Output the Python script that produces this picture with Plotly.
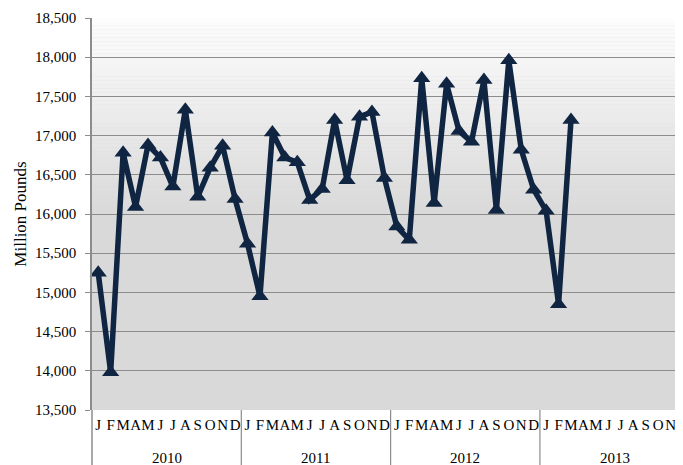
import numpy as np
import plotly.graph_objects as go

months = ["J", "F", "M", "A", "M", "J", "J", "A", "S", "O", "N", "D"]
years = ["2010", "2011", "2012", "2013"]
values_2010 = [15250, 13980, 16780, 16090, 16880, 16720, 16350, 17330, 16220, 16590, 16870, 16190]
values_2011 = [15620, 14950, 17040, 16720, 16660, 16180, 16320, 17200, 16430, 17240, 17300, 16460]
values_2012 = [15840, 15670, 17730, 16140, 17660, 17060, 16920, 17710, 16050, 17960, 16820, 16310]
values_2013 = [16040, 14850, 17200, None, None, None, None, None, None, None, None, None]
y_ticks = [13500, 14000, 14500, 15000, 15500, 16000, 16500, 17000, 17500, 18000, 18500]

all_vals = values_2010 + values_2011 + values_2012 + values_2013
labels = months * len(years)
x = np.arange(len(all_vals))

NAVY = "#0f2541"
GRID = "#8c8c8c"
FONT = "Liberation Serif"

fig = go.Figure()
fig.add_trace(go.Scatter(
    x=x, y=all_vals, mode="lines+markers",
    line=dict(color=NAVY, width=5.5),
    marker=dict(symbol="triangle-up", size=15, color=NAVY),
    connectgaps=False, showlegend=False, cliponaxis=False,
))

# gradient background (white at top fading to light gray)
shapes = []
n = 50
y_lo, y_hi = 16000, 18500
shapes.append(dict(type="rect", xref="paper", yref="y", x0=0, x1=1, y0=13500, y1=y_lo,
                   fillcolor="#d9d9d9", line=dict(width=0), layer="below"))
for i in range(n):
    a = y_lo + (y_hi - y_lo) * i / n
    b = y_lo + (y_hi - y_lo) * (i + 1) / n
    t = (i + 0.5) / n
    c = int(round(217 + (253 - 217) * t))
    shapes.append(dict(type="rect", xref="paper", yref="y", x0=0, x1=1, y0=a, y1=b + 1,
                       fillcolor=f"rgb({c},{c},{c})", line=dict(width=0), layer="below"))

# page body has an 8px margin; figure sized so it ends at the window edge
W, H = 675, 457
ML, MT, MB = 84, 10, 55
plot_h = H - MT - MB

# year group dividers
for k in range(1, len(years)):
    xb = 12 * k - 0.5
    shapes.append(dict(type="line", xref="x", yref="paper", x0=xb, x1=xb, y0=0, y1=-MB / plot_h,
                       line=dict(color=GRID, width=1.2)))
shapes.append(dict(type="line", xref="paper", yref="paper", x0=0, x1=0, y0=0, y1=-MB / plot_h,
                   line=dict(color=GRID, width=1.5)))

annotations = []
for k, yr in enumerate(years):
    annotations.append(dict(x=12 * k + 5.5, y=-48 / plot_h, xref="x", yref="paper", text=yr,
                            showarrow=False, font=dict(family=FONT, size=15, color="#000"),
                            xanchor="center", yanchor="middle"))

fig.update_layout(
    width=W, height=H,
    margin=dict(l=ML, r=0, t=MT, b=MB, autoexpand=False),
    paper_bgcolor="white", plot_bgcolor="#d9d9d9",
    shapes=shapes, annotations=annotations,
    font=dict(family=FONT, size=15, color="#000"),
    xaxis=dict(range=[-0.5, 47.0], tickmode="array", tickvals=x, ticktext=labels,
               showgrid=False, zeroline=False, ticks="", ticklabelstandoff=4, tickangle=0,
               automargin=False,
               tickfont=dict(family=FONT, size=15, color="#000"), showline=False),
    yaxis=dict(range=[13500, 18500], tickmode="array", tickvals=y_ticks, automargin=False,
               ticktext=[f"{v:,}" for v in y_ticks], showgrid=True, gridcolor=GRID, gridwidth=1.3,
               zeroline=False, showline=True, linecolor=GRID, linewidth=1.5,
               ticks="outside", ticklen=5, tickcolor=GRID, ticklabelstandoff=6,
               tickfont=dict(family=FONT, size=15, color="#000"),
               title=dict(text="Million Pounds", font=dict(family=FONT, size=17, color="#000"), standoff=4)),
)

fig.write_html("out.html")
